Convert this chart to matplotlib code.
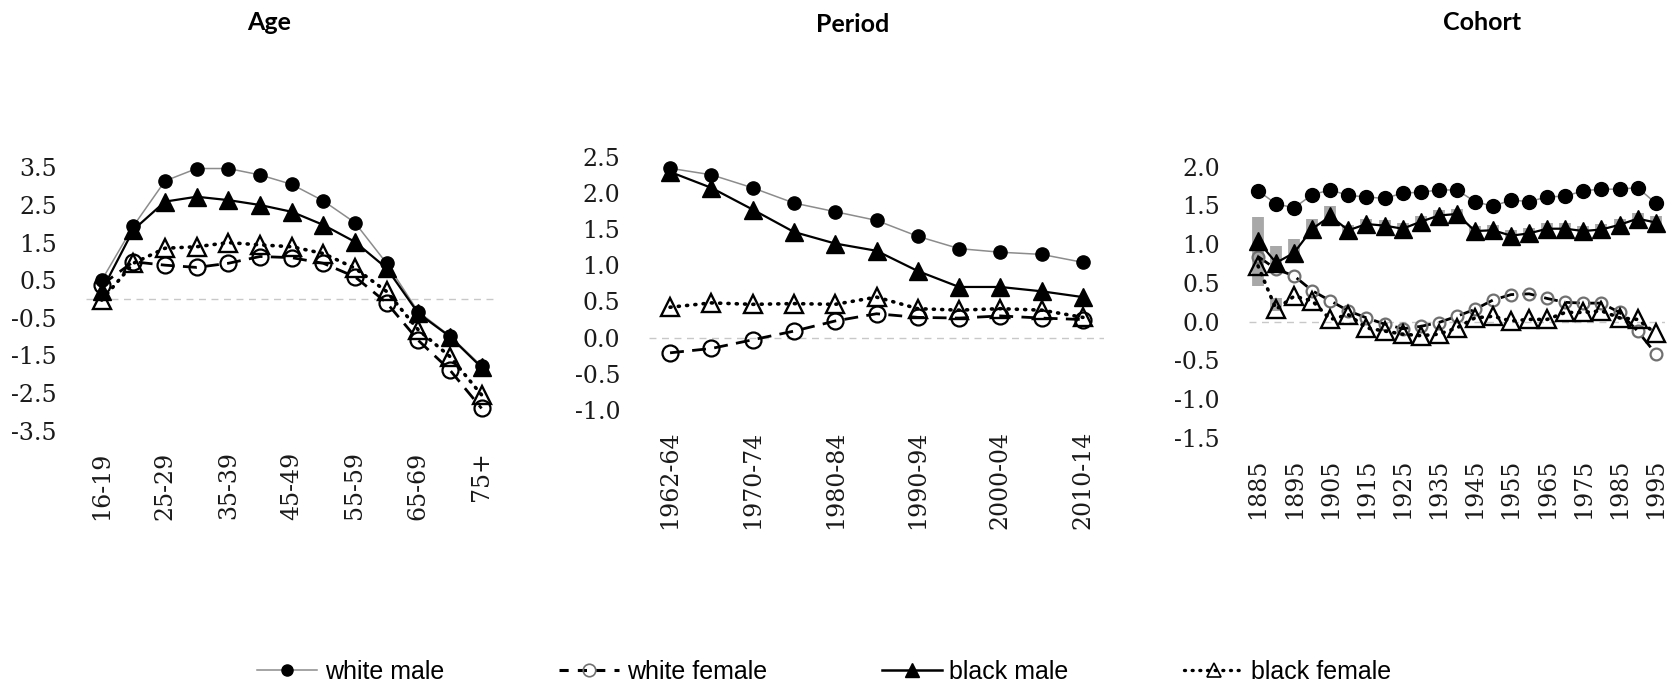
import matplotlib
matplotlib.use("Agg")
import matplotlib.pyplot as plt
from matplotlib.lines import Line2D
from matplotlib import font_manager
import numpy as np

plt.rcParams['axes.unicode_minus'] = False

# ---- data ----
age_groups = ['16-19', '20-24', '25-29', '30-34', '35-39', '40-44', '45-49',
              '50-54', '55-59', '60-64', '65-69', '70-74', '75+']
age_wm = [0.50, 1.94, 3.14, 3.47, 3.47, 3.30, 3.05, 2.61, 2.03, 0.95, -0.34, -0.98, -1.78]
age_wf = [0.38, 0.99, 0.90, 0.84, 0.95, 1.13, 1.10, 0.95, 0.59, -0.10, -1.10, -1.89, -2.91]
age_bm = [0.22, 1.84, 2.59, 2.72, 2.63, 2.50, 2.32, 1.97, 1.52, 0.82, -0.38, -1.00, -1.82]
age_bf = [-0.03, 0.95, 1.35, 1.39, 1.50, 1.44, 1.39, 1.21, 0.82, 0.20, -0.82, -1.53, -2.55]

period_groups = ['1962-64', '1965-69', '1970-74', '1975-79', '1980-84', '1985-89',
                 '1990-94', '1995-99', '2000-04', '2005-09', '2010-14']
per_wm = [2.34, 2.25, 2.07, 1.86, 1.74, 1.62, 1.40, 1.23, 1.18, 1.15, 1.04]
per_wf = [-0.21, -0.15, -0.03, 0.09, 0.23, 0.33, 0.28, 0.27, 0.30, 0.27, 0.25]
per_bm = [2.29, 2.07, 1.77, 1.46, 1.30, 1.20, 0.92, 0.70, 0.70, 0.64, 0.56]
per_bf = [0.42, 0.48, 0.46, 0.47, 0.46, 0.56, 0.40, 0.38, 0.40, 0.38, 0.28]

cohorts = ['1885', '1890', '1895', '1900', '1905', '1910', '1915', '1920', '1925',
           '1930', '1935', '1940', '1945', '1950', '1955', '1960', '1965', '1970',
           '1975', '1980', '1985', '1990', '1995']
coh_wm = [1.69, 1.52, 1.47, 1.64, 1.70, 1.63, 1.61, 1.59, 1.66, 1.67, 1.70, 1.70,
          1.55, 1.49, 1.57, 1.55, 1.61, 1.62, 1.69, 1.71, 1.71, 1.73, 1.53]
coh_wf = [0.84, 0.68, 0.59, 0.40, 0.27, 0.14, 0.05, -0.03, -0.09, -0.06, -0.01, 0.07,
          0.16, 0.28, 0.35, 0.36, 0.30, 0.25, 0.24, 0.24, 0.12, -0.12, -0.41]
coh_bm = [1.04, 0.76, 0.89, 1.20, 1.36, 1.18, 1.26, 1.24, 1.20, 1.29, 1.37, 1.39,
          1.17, 1.18, 1.11, 1.14, 1.20, 1.20, 1.17, 1.19, 1.25, 1.33, 1.28]
coh_bf = [0.72, 0.16, 0.33, 0.27, 0.03, 0.09, -0.08, -0.12, -0.16, -0.18, -0.16, -0.08,
          0.05, 0.07, 0.01, 0.03, 0.03, 0.12, 0.12, 0.14, 0.05, 0.03, -0.15]
# grey interval bars behind the black series in the cohort panel
coh_bm_lo = [0.46, 0.63, 0.78, 1.12, 1.26, 1.11, 1.19, 1.17, 1.13, 1.22, 1.30, 1.32,
             1.10, 1.11, 1.04, 1.07, 1.13, 1.13, 1.10, 1.12, 1.18, 1.26, 1.20]
coh_bm_hi = [1.35, 0.98, 1.07, 1.33, 1.49, 1.25, 1.33, 1.31, 1.27, 1.36, 1.44, 1.46,
             1.24, 1.25, 1.18, 1.21, 1.27, 1.27, 1.24, 1.26, 1.32, 1.40, 1.36]
coh_bf_lo = {1: 0.14}
coh_bf_hi = {1: 0.31}

# ---- fonts ----
names = {f.name for f in font_manager.fontManager.ttflist}
legend_font = 'Liberation Sans Narrow' if 'Liberation Sans Narrow' in names else 'Liberation Sans'
tick_font = 'DejaVu Serif'
title_font = 'Lato' if 'Lato' in names else 'DejaVu Sans'

W, H = 1672, 687
fig = plt.figure(figsize=(W / 100, H / 100), dpi=100)


def px_axes(x0, x1, y0, y1):
    return fig.add_axes([x0 / W, 1 - y1 / H, (x1 - x0) / W, (y1 - y0) / H])


def draw_panel(ax, cats, wm, wf, bm, bf, ylim, step, small=False):
    x = np.arange(len(cats))
    ax.axhline(0, color='#c8c8c8', lw=1.0, ls=(0, (5, 4)), zorder=0)
    ms_c = 10 if small else 9.5
    ms_t = 12.5
    ms_o = 8.5 if small else 11.5
    wf_edge = '#707070' if small else 'black'
    ax.plot(x, wm, color='#8c8c8c', lw=1.1, marker='o', ms=ms_c,
            mfc='black', mec='black', clip_on=False, zorder=3)
    ax.plot(x, wf, color='black', lw=2.0, ls=(0, (5, 3)), marker='o', ms=ms_o,
            mfc='none', mec=wf_edge, mew=1.6, clip_on=False, zorder=3)
    ax.plot(x, bm, color='black', lw=1.6, marker='^', ms=ms_t,
            mfc='black', mec='black', clip_on=False, zorder=4)
    ax.plot(x, bf, color='black', lw=2.6, ls=(0, (0.3, 2.0)), dash_capstyle='round',
            marker='^', ms=ms_t, mfc='none', mec='black', mew=1.7,
            clip_on=False, zorder=4)
    ax.set_xlim(-0.5, len(cats) - 0.5)
    ax.set_ylim(*ylim)
    ticks = np.arange(ylim[0], ylim[1] + 0.001, step)
    ax.set_yticks(ticks)
    ax.set_yticklabels(['%.1f' % t for t in ticks], fontfamily=tick_font,
                       fontsize=17, color='#1a1a1a')
    ax.set_xticks(x[::2])
    ax.set_xticklabels(cats[::2], rotation=90, fontfamily=tick_font,
                       fontsize=17, color='#1a1a1a')
    ax.tick_params(axis='y', length=0, pad=21)
    ax.tick_params(axis='x', length=0, pad=15)
    for s in ax.spines.values():
        s.set_visible(False)
    ax.patch.set_alpha(0)


ax1 = px_axes(85.9, 497.4, 167.4, 430.6)
draw_panel(ax1, age_groups, age_wm, age_wf, age_bm, age_bf, (-3.5, 3.5), 1.0)

ax2 = px_axes(649.4, 1103.6, 156.7, 410.0)
draw_panel(ax2, period_groups, per_wm, per_wf, per_bm, per_bf, (-1.0, 2.5), 0.5)

ax3 = px_axes(1249, 1664.7, 166.7, 438.0)
xc = np.arange(len(cohorts))
ax3.vlines(xc, coh_bm_lo, coh_bm_hi, color='#a8a8a8', lw=8.5, zorder=1)
bf_idx = list(coh_bf_lo.keys())
ax3.vlines(bf_idx, [coh_bf_lo[i] for i in bf_idx], [coh_bf_hi[i] for i in bf_idx],
           color='#a8a8a8', lw=8.5, zorder=1)
draw_panel(ax3, cohorts, coh_wm, coh_wf, coh_bm, coh_bf, (-1.5, 2.0), 0.5, small=True)

# titles
for label, xp, yp in [('Age', 269, 22), ('Period', 853, 25), ('Cohort', 1482, 22)]:
    fig.text(xp / W, 1 - yp / H, label, ha='center', va='center',
             fontfamily=title_font, fontweight='bold', fontsize=18, color='black')

# legend
handles = [
    Line2D([], [], color='#8c8c8c', lw=1.1, marker='o', ms=8, mfc='black', mec='black'),
    Line2D([], [], color='black', lw=2.2, ls=(0, (3, 3)), marker='o', ms=9,
           mfc='none', mec='#707070', mew=1.2),
    Line2D([], [], color='black', lw=1.8, marker='^', ms=10, mfc='black', mec='black'),
    Line2D([], [], color='black', lw=2.4, ls=(0, (0.3, 2.0)), dash_capstyle='round',
           marker='^', ms=10, mfc='none', mec='black', mew=1.2),
]
labels = ['white male', 'white female', 'black male', 'black female']
fig.legend(handles, labels, loc='center', bbox_to_anchor=(0.493, 0.022), ncol=4,
           frameon=False, prop={'family': legend_font, 'size': 18},
           handlelength=2.4, handletextpad=0.3, columnspacing=4.6, borderpad=0)

fig.savefig('out.png', dpi=100)
